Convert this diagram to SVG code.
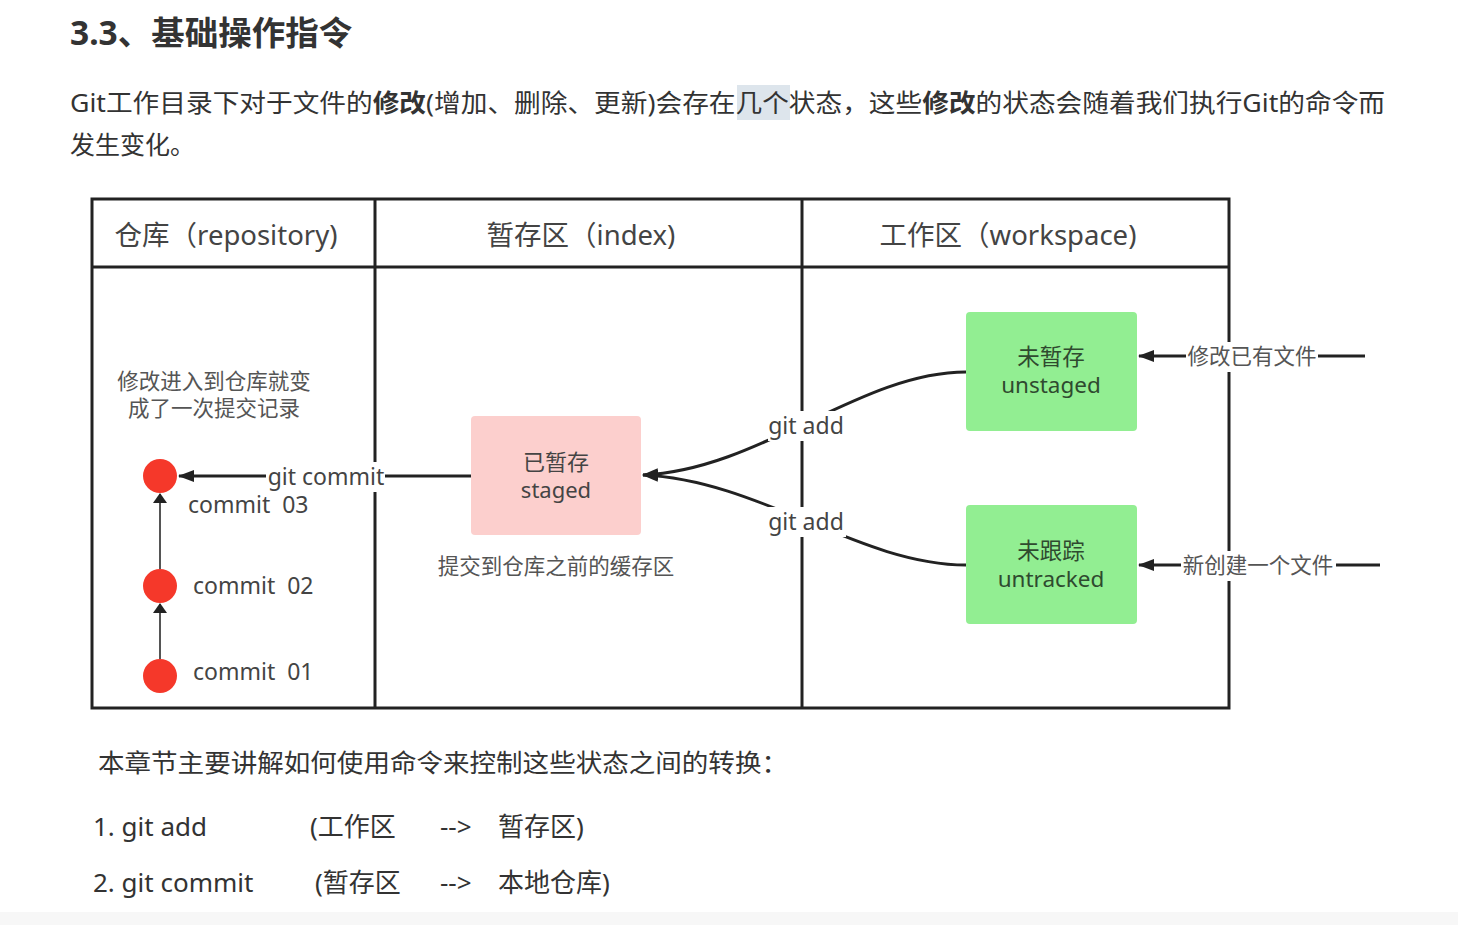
<svg xmlns="http://www.w3.org/2000/svg" width="1458" height="925" viewBox="0 0 1458 925">
<defs>
<style>
text{font-family:"Noto Sans","Noto Sans CJK SC",sans-serif;white-space:pre;}
.h{font-size:27.5px;fill:#444;text-anchor:middle;}
.p{font-size:25px;fill:#333;}
.f{font-size:26px;fill:#333;}
.n{font-size:22px;fill:#444;text-anchor:middle;}
.g{font-size:22.5px;fill:#2f4a2f;text-anchor:middle;}
.l{font-size:23px;fill:#444;}
.s{font-size:21.5px;fill:#555;text-anchor:middle;}
.tbl{fill:none;stroke:#222;stroke-width:3;}
.c{fill:none;stroke:#222;stroke-width:3;}
.bg{fill:#fff;}
</style>
<marker id="ah" viewBox="0 0 16 12" refX="15" refY="6" markerWidth="16" markerHeight="12" markerUnits="userSpaceOnUse" orient="auto">
<path d="M0,0 L16,6 L0,12 Z" fill="#222"/>
</marker>
<marker id="ahs" viewBox="0 0 10 14" refX="9" refY="7" markerWidth="10" markerHeight="14" markerUnits="userSpaceOnUse" orient="auto">
<path d="M0,0 L10,7 L0,14 Z" fill="#222"/>
</marker>
</defs>
<rect width="1458" height="925" fill="#fff"/>
<rect y="912" width="1458" height="13" fill="#f7f7f7"/>

<g id="heading">
<text x="70" y="45" style="font-size:33.5px;font-weight:bold;fill:#333">3.3、基础操作指令</text>
<rect x="737" y="85" width="53" height="35" fill="#dde5ec"/>
<text x="70" y="112" class="p" textLength="1315" lengthAdjust="spacingAndGlyphs">Git工作目录下对于文件的<tspan font-weight="bold">修改</tspan>(增加、删除、更新)会存在几个状态，这些<tspan font-weight="bold">修改</tspan>的状态会随着我们执行Git的命令而</text>
<text x="70" y="154" class="p">发生变化。</text>
</g>

<g id="table">
<rect x="92" y="199" width="1137" height="509" class="tbl"/>
<line x1="92" y1="267" x2="1229" y2="267" class="tbl"/>
<line x1="375" y1="199" x2="375" y2="708" class="tbl"/>
<line x1="802" y1="199" x2="802" y2="708" class="tbl"/>
<text x="226" y="245" class="h">仓库（repository)</text>
<text x="581" y="245" class="h">暂存区（index)</text>
<text x="1008" y="245" class="h">工作区（workspace)</text>
</g>

<g id="connectors">
<path d="M1365,356 L1139,356" class="c" marker-end="url(#ah)"/>
<path d="M1380,565 L1139,565" class="c" marker-end="url(#ah)"/>
<path d="M966,372 C860,372 760,470 643,475" class="c" marker-end="url(#ah)"/>
<path d="M966,565 C860,565 760,480 643,475" class="c" marker-end="url(#ah)"/>
<path d="M471,476 L179,476" class="c" marker-end="url(#ah)"/>
<path d="M160,569 L160,494" fill="none" stroke="#555" stroke-width="2" marker-end="url(#ahs)"/>
<path d="M160,659 L160,604" fill="none" stroke="#555" stroke-width="2" marker-end="url(#ahs)"/>
<rect x="1186" y="342" width="132" height="30" class="bg"/>
<text x="1252" y="364" class="s">修改已有文件</text>
<rect x="1181" y="551" width="155" height="30" class="bg"/>
<text x="1258" y="573" class="s">新创建一个文件</text>
<rect x="768" y="411" width="78" height="30" class="bg"/>
<text x="806" y="434" class="l" text-anchor="middle">git add</text>
<rect x="768" y="507" width="78" height="30" class="bg"/>
<text x="806" y="530" class="l" text-anchor="middle">git add</text>
<rect x="266" y="462" width="119" height="30" class="bg"/>
<text x="326" y="485" class="l" text-anchor="middle">git commit</text>
</g>

<g id="unstaged">
<rect x="966" y="312" width="171" height="119" rx="4" fill="#92ee92"/>
<text x="1051" y="365" class="g">未暂存</text>
<text x="1051" y="393" class="g">unstaged</text>
</g>
<g id="untracked">
<rect x="966" y="505" width="171" height="119" rx="4" fill="#92ee92"/>
<text x="1051" y="559" class="g">未跟踪</text>
<text x="1051" y="587" class="g">untracked</text>
</g>
<g id="staged">
<rect x="471" y="416" width="170" height="119" rx="4" fill="#fccfcd"/>
<text x="556" y="470" class="n">已暂存</text>
<text x="556" y="498" class="n">staged</text>
<text x="556" y="574" class="s">提交到仓库之前的缓存区</text>
</g>

<g id="repo-note">
<text x="214" y="389" class="s">修改进入到仓库就变</text>
<text x="214" y="416" class="s">成了一次提交记录</text>
</g>
<g id="commit03">
<circle cx="160" cy="476" r="17" fill="#f5382a"/>
<text x="188" y="513" class="l">commit  03</text>
</g>
<g id="commit02">
<circle cx="160" cy="586" r="17" fill="#f5382a"/>
<text x="193" y="594" class="l">commit  02</text>
</g>
<g id="commit01">
<circle cx="160" cy="676" r="17" fill="#f5382a"/>
<text x="193" y="680" class="l">commit  01</text>
</g>

<g id="footer">
<text x="98" y="772" class="p" textLength="690" lengthAdjust="spacingAndGlyphs">本章节主要讲解如何使用命令来控制这些状态之间的转换：</text>
<text x="93" y="836" class="f">1. git add</text>
<text x="310" y="836" class="f">(工作区</text>
<text x="440" y="836" class="f">--&gt;</text>
<text x="498" y="836" class="f">暂存区)</text>
<text x="93" y="892" class="f">2. git commit</text>
<text x="315" y="892" class="f">(暂存区</text>
<text x="440" y="892" class="f">--&gt;</text>
<text x="498" y="892" class="f">本地仓库)</text>
</g>
</svg>
